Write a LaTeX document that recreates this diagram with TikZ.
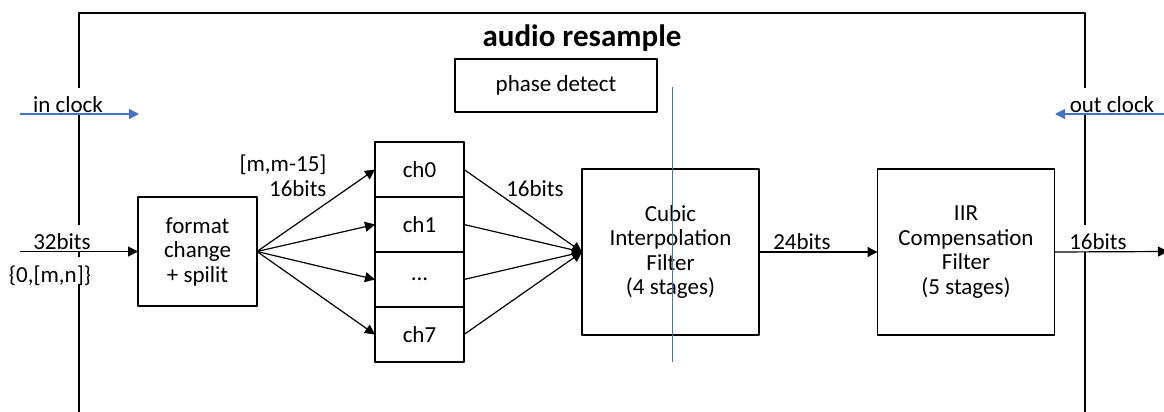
\documentclass[tikz,border=0pt]{standalone}
\usepackage{fontspec}
\setmainfont{Carlito}
\usetikzlibrary{arrows.meta,positioning}
\definecolor{clkblue}{HTML}{4472C4}

\begin{document}
\begin{tikzpicture}[x=0.5pt, y=-0.5pt, >={Triangle[length=5pt,width=5pt]}, line join=round,
    box/.style={draw, line width=0.6pt, align=center, inner sep=0pt, outer sep=0pt, font=\fontsize{11.5}{12.25}\selectfont},
    chbox/.style={box, minimum width=44.5pt, minimum height=27.5pt},
    filt/.style={box, minimum width=88.5pt, minimum height=83pt},
    lbl/.style={font=\fontsize{11.5}{12.25}\selectfont, inner sep=1pt},
    gap/.style={lbl, fill=white, inner ysep=0.5pt, text height=12pt, text depth=0.5pt},
    clk/.style={->, draw=clkblue, line width=0.6pt}]
    \useasboundingbox (0,0) rectangle (1164,412);

    % frame of the module
    \draw[line width=0.6pt] (79,412) -- (79,13) -- (1085,13) -- (1085,412);
    \node[font=\bfseries\fontsize{15.5}{18}\selectfont] (title) at (582,38) {audio resample};

    % blocks
    \node[box, minimum width=101pt, minimum height=26.5pt] (phase) at (556,85.5) {phase detect};
    \node[box, minimum width=59.5pt, minimum height=54.5pt] (fmt) at (197.5,251.5) {format\\change\\+ spilit};
    \node[chbox] (ch0) at (419.5,169.5) {ch0};
    \node[chbox, below=0pt of ch0] (ch1) {ch1};
    \node[chbox, below=0pt of ch1] (chx) {...};
    \node[chbox, below=0pt of chx] (ch7) {ch7};
    \node[filt] (cubic) at (670.5,252) {Cubic\\Interpolation\\Filter\\(4 stages)};
    \node[filt] (iir) at (966,252) {IIR\\Compensation\\Filter\\(5 stages)};

    % labels that cut the frame
    \node[gap, anchor=south] (inclk) at (68,115) {in clock};
    \node[gap, anchor=south] (outclk) at (1112,115) {out clock};
    \node[gap, anchor=south] (bin) at (62,252) {32bits};
    \node[gap, anchor=north] (range) at (50,257) {\{0,[m,n]\}};
    \node[gap, anchor=south] (bout) at (1098,252) {16bits};

    % other labels
    \node[lbl, align=right] (split) at (283,176) {[m,m-15]\\16bits};
    \node[lbl] (bch) at (535,189) {16bits};
    \node[lbl, anchor=south] (bmid) at (802,252) {24bits};

    % clocks
    \coordinate (ckA) at (20,114);
    \coordinate (ckB) at (139,114);
    \draw[clk] (ckA) -- (ckB);
    \coordinate (ckC) at (1170,114);
    \coordinate (ckD) at (1055,114);
    \draw[clk] (ckC) -- (ckD);

    % data path
    \coordinate (dIn) at (20,251.5);
    \coordinate (dOut) at (1168,251.5);
    \draw[->, line width=0.6pt] (dIn) -- (fmt.west);
    \foreach \c in {ch0,ch1,chx,ch7} {
        \draw[->, line width=0.6pt] (fmt.east) -- (\c.west);
        \draw[->, line width=0.6pt] (\c.east) -- (cubic.west);
    }
    \draw[->, line width=0.6pt] (cubic.east) -- (iir.west);
    \draw[->, line width=0.6pt] (iir.east) -- (dOut);

    % blue marker line
    \coordinate (mk1) at (672,87);
    \coordinate (mk2) at (672,362);
    \draw[clkblue, line width=0.5pt] (mk1) -- (mk2);
\end{tikzpicture}
\end{document}
